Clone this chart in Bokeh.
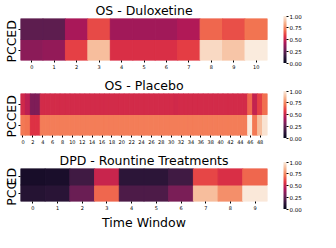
import numpy as np
from bokeh.plotting import figure
from bokeh.layouts import column
from bokeh.models import (LinearColorMapper, ColorBar, FixedTicker,
                          PrintfTickFormatter, ColumnDataSource)
from bokeh.embed import file_html
from bokeh.resources import INLINE

# ---------------- data ----------------
row_labels = ["PCC", "ED"]          # bottom row, top row

dul_title = "OS - Duloxetine"
dul_ed  = [0.24, 0.24, 0.42, 0.62, 0.40, 0.40, 0.40, 0.44, 0.68, 0.63, 0.71]
dul_pcc = [0.35, 0.37, 0.60, 0.88, 0.55, 0.55, 0.55, 0.59, 0.95, 0.90, 1.00]

pla_title = "OS - Placebo"
pla_ed = [0.52, 0.47, 0.32, 0.32, 0.53, 0.53, 0.53, 0.53, 0.53, 0.53,
          0.53, 0.53, 0.53, 0.53, 0.53, 0.53, 0.53, 0.53, 0.53, 0.53,
          0.53, 0.53, 0.53, 0.53, 0.53, 0.53, 0.53, 0.53, 0.53, 0.53,
          0.53, 0.52, 0.53, 0.53, 0.53, 0.53, 0.53, 0.53, 0.53, 0.53,
          0.53, 0.53, 0.53, 0.53, 0.53, 0.53, 0.68, 0.49, 0.60, 0.70]
pla_pcc = [0.72, 0.71, 0.56, 0.56, 0.73, 0.73, 0.73, 0.73, 0.73, 0.73,
           0.73, 0.73, 0.73, 0.73, 0.73, 0.73, 0.73, 0.73, 0.73, 0.73,
           0.73, 0.73, 0.73, 0.73, 0.73, 0.73, 0.73, 0.73, 0.73, 0.73,
           0.73, 0.73, 0.73, 0.73, 0.73, 0.73, 0.73, 0.73, 0.73, 0.73,
           0.73, 0.73, 0.73, 0.73, 0.73, 0.73, 1.00, 0.72, 0.88, 0.98]

dpd_title = "DPD - Rountine Treatments"
dpd_ed  = [0.06, 0.07, 0.17, 0.50, 0.12, 0.12, 0.17, 0.61, 0.55, 0.68]
dpd_pcc = [0.10, 0.11, 0.27, 0.68, 0.20, 0.20, 0.31, 0.88, 0.77, 0.99]

cbar_ticks = [0.0, 0.25, 0.5, 0.75, 1.0]
x_label = "Time Window"

# ------------- rocket-like palette -------------
anchors = [(0.0, "#03051A"), (1/7, "#35193E"), (2/7, "#701F57"),
           (3/7, "#AD1759"), (4/7, "#E13342"), (5/7, "#F37651"),
           (6/7, "#F6B48F"), (1.0, "#FAEBDD")]
def hex2rgb(h):
    return np.array([int(h[i:i+2], 16) for i in (1, 3, 5)], dtype=float)
pos = np.array([a[0] for a in anchors])
cols = np.array([hex2rgb(a[1]) for a in anchors])
palette = []
for t in np.linspace(0, 1, 256):
    r = np.interp(t, pos, cols[:, 0]); g = np.interp(t, pos, cols[:, 1]); b = np.interp(t, pos, cols[:, 2])
    palette.append("#%02x%02x%02x" % (int(round(r)), int(round(g)), int(round(b))))

FONT = "DejaVu Sans"
FRAME_H = 47

def make_panel(title, ed, pcc, height, step, bottom, xlabel=None):
    n = len(ed)
    xs, ys, vals = [], [], []
    for j, row in enumerate([pcc, ed]):
        for i, v in enumerate(row):
            xs.append(i + 0.5); ys.append(j + 0.5); vals.append(v)
    src = ColumnDataSource(dict(x=xs, y=ys, v=vals))
    mapper = LinearColorMapper(palette=palette, low=0.0, high=1.0)
    p = figure(width=320, height=height, x_range=(0, n), y_range=(0, 2),
               output_backend="svg", toolbar_location=None,
               min_border_left=16, min_border_right=36,
               min_border_top=13, min_border_bottom=bottom)
    p.rect(x="x", y="y", width=1, height=1, source=src,
           fill_color={"field": "v", "transform": mapper},
           line_color={"field": "v", "transform": mapper}, line_width=1)
    p.title.text = title
    p.title.align = "center"
    p.title.text_font = FONT
    p.title.text_font_size = "12.5px"
    p.title.text_font_style = "normal"
    p.title.text_color = "black"
    p.title.standoff = 1
    p.outline_line_color = None
    p.grid.visible = False
    p.xaxis.ticker = FixedTicker(ticks=[i + 0.5 for i in range(0, n, step)])
    p.xaxis.major_label_overrides = {i + 0.5: str(i) for i in range(n)}
    p.yaxis.ticker = FixedTicker(ticks=[0.5, 1.5])
    p.yaxis.major_label_overrides = {0.5: row_labels[0], 1.5: row_labels[1]}
    p.yaxis.major_label_orientation = "vertical"
    for ax in (p.xaxis, p.yaxis):
        ax.axis_line_color = None
        ax.minor_tick_line_color = None
        ax.major_tick_line_color = "black"
        ax.major_tick_in = 0
        ax.major_tick_out = 2
        ax.major_label_text_font = FONT
        ax.major_label_text_color = "black"
    p.xaxis.major_label_text_font_size = "5px"
    p.xaxis.major_label_standoff = 2
    p.yaxis.major_label_text_font_size = "12.5px"
    p.yaxis.major_label_standoff = 0
    if xlabel:
        p.xaxis.axis_label = xlabel
        p.xaxis.axis_label_text_font = FONT
        p.xaxis.axis_label_text_font_size = "12.5px"
        p.xaxis.axis_label_text_font_style = "normal"
        p.xaxis.axis_label_text_color = "black"
        p.xaxis.axis_label_standoff = 2
    cb = ColorBar(color_mapper=mapper, width=3, height=FRAME_H,
                  padding=16, margin=0, location="center_left",
                  ticker=FixedTicker(ticks=cbar_ticks),
                  formatter=PrintfTickFormatter(format="%.2f"),
                  major_label_text_font=FONT, major_label_text_font_size="5.5px",
                  major_label_text_color="black",
                  major_tick_line_color="black", major_tick_in=0, major_tick_out=2,
                  label_standoff=1, bar_line_color=None, border_line_color=None,
                  background_fill_color=None)
    p.add_layout(cb, "right")
    return p

p1 = make_panel(dul_title, dul_ed, dul_pcc, 75, 1, 15)
p2 = make_panel(pla_title, pla_ed, pla_pcc, 75, 2, 15)
p3 = make_panel(dpd_title, dpd_ed, dpd_pcc, 82, 1, 22, x_label)
layout = column(p1, p2, p3, spacing=0)
open("out.html", "w").write(file_html(layout, INLINE))
